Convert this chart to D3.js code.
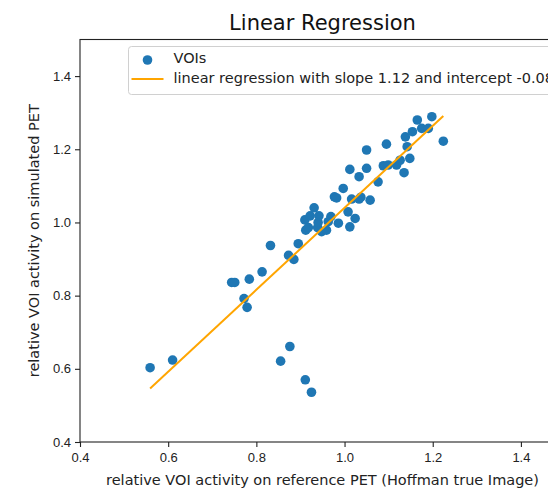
<!DOCTYPE html>
<html>
<head>
<meta charset="utf-8">
<script src="https://cdn.jsdelivr.net/npm/d3@7"></script>
<style>
  body { margin: 0; background: #fff; }
  svg { font-family: "DejaVu Sans", sans-serif; }
  .tick text { font-size: 13px; fill: #222; }
  .axis-label { font-size: 14.5px; fill: #222; }
  .chart-title { font-size: 21px; fill: #111; }
  .legend-label { font-size: 14.5px; fill: #222; }
</style>
</head>
<body>
<div id="chart"></div>
<script>
// VOI activity: reference PET (x) vs simulated PET (y)
const refActivity = [
    0.559, 0.610, 0.744, 0.751, 0.784, 0.813, 0.832, 0.772, 0.779, 0.876, 0.855, 0.911, 0.925,
    0.873, 0.885, 0.895, 0.910, 0.912, 0.918, 0.922, 0.931, 0.939, 0.940, 0.942, 0.948, 0.959,
    0.963, 0.969, 0.977, 0.982, 0.986, 0.997, 1.008, 1.012, 1.016, 1.024, 1.033, 1.037, 1.058,
    1.012, 1.033, 1.050, 1.050, 1.076, 1.088, 1.099, 1.095, 1.118, 1.126, 1.135, 1.138, 1.142,
    1.148, 1.154, 1.165, 1.175, 1.190, 1.198, 1.224
];
const simActivity = [
    0.603, 0.624, 0.836, 0.836, 0.845, 0.865, 0.937, 0.792, 0.768, 0.661, 0.621, 0.570, 0.536,
    0.910, 0.899, 0.942, 1.007, 0.979, 0.986, 1.018, 1.040, 0.986, 1.000, 1.018, 0.975, 0.979,
    1.002, 1.016, 1.070, 1.067, 0.998, 1.093, 1.029, 0.988, 1.064, 1.011, 1.064, 1.069, 1.061,
    1.145, 1.125, 1.198, 1.148, 1.111, 1.155, 1.157, 1.214, 1.157, 1.170, 1.136, 1.234, 1.207,
    1.175, 1.248, 1.280, 1.257, 1.257, 1.289, 1.222
];
const slope = 1.12;
const intercept = -0.08;
const xTicks = [0.4, 0.6, 0.8, 1.0, 1.2, 1.4];
const yTicks = [0.4, 0.6, 0.8, 1.0, 1.2, 1.4];

const width = 548;
const height = 488;
const margin = { top: 39.5, right: -17, bottom: 46, left: 80 };

const svg = d3.select("#chart")
    .append("svg")
    .attr("width", width)
    .attr("height", height);

const x = d3.scaleLinear()
    .domain([0.4, 1.5])
    .range([margin.left, width - margin.right]);

const y = d3.scaleLinear()
    .domain([0.4, 1.5])
    .range([height - margin.bottom, margin.top]);

const fmt = d3.format(".1f");

// axes
const xAxis = svg.append("g")
    .attr("transform", `translate(0, ${height - margin.bottom})`)
    .call(d3.axisBottom(x).tickValues(xTicks).tickFormat(fmt).tickSize(5).tickPadding(6));

const yAxis = svg.append("g")
    .attr("transform", `translate(${margin.left}, 0)`)
    .call(d3.axisLeft(y).tickValues(yTicks).tickFormat(fmt).tickSize(5).tickPadding(4));

[xAxis, yAxis].forEach(a => {
    a.select(".domain").remove();
    a.selectAll(".tick line").attr("stroke", "#222").attr("stroke-width", 1.1);
});

// spines (right one falls outside the picture)
svg.append("rect")
    .attr("x", x(0.4))
    .attr("y", y(1.5))
    .attr("width", x(1.5) - x(0.4))
    .attr("height", y(0.4) - y(1.5))
    .attr("fill", "none")
    .attr("stroke", "#222")
    .attr("stroke-width", 1.1);

// scatter
const points = refActivity.map((v, i) => ({ x: v, y: simActivity[i] }));

svg.append("g")
    .selectAll("circle")
    .data(points)
    .enter()
    .append("circle")
    .attr("cx", d => x(d.x))
    .attr("cy", d => y(d.y))
    .attr("r", 4.8)
    .attr("fill", "#1f77b4");

// regression line over the data range
const xExtent = d3.extent(refActivity);
svg.append("line")
    .attr("x1", x(xExtent[0]))
    .attr("y1", y(slope * xExtent[0] + intercept))
    .attr("x2", x(xExtent[1]))
    .attr("y2", y(slope * xExtent[1] + intercept))
    .attr("stroke", "#ffa500")
    .attr("stroke-width", 2);

// title and axis labels
svg.append("text")
    .attr("class", "chart-title")
    .attr("x", (x(0.4) + x(1.5)) / 2)
    .attr("y", 30)
    .attr("text-anchor", "middle")
    .text("Linear Regression");

svg.append("text")
    .attr("class", "axis-label")
    .attr("x", (x(0.4) + x(1.5)) / 2)
    .attr("y", 485)
    .attr("text-anchor", "middle")
    .text("relative VOI activity on reference PET (Hoffman true Image)");

svg.append("text")
    .attr("class", "axis-label")
    .attr("transform", `translate(39, ${(y(0.4) + y(1.5)) / 2}) rotate(-90)`)
    .attr("text-anchor", "middle")
    .text("relative VOI activity on simulated PET");

// legend
const legend = svg.append("g")
    .attr("transform", "translate(128.5, 46.5)");

legend.append("rect")
    .attr("width", 460)
    .attr("height", 48)
    .attr("rx", 3)
    .attr("fill", "#fff")
    .attr("fill-opacity", 0.8)
    .attr("stroke", "#d0d0d0")
    .attr("stroke-width", 1);

legend.append("circle")
    .attr("cx", 19)
    .attr("cy", 13.5)
    .attr("r", 4.8)
    .attr("fill", "#1f77b4");

legend.append("text")
    .attr("class", "legend-label")
    .attr("x", 45)
    .attr("y", 16.5)
    .text("VOIs");

legend.append("line")
    .attr("x1", 3)
    .attr("x2", 35)
    .attr("y1", 32.5)
    .attr("y2", 32.5)
    .attr("stroke", "#ffa500")
    .attr("stroke-width", 2);

legend.append("text")
    .attr("class", "legend-label")
    .attr("x", 45)
    .attr("y", 36.5)
    .text(`linear regression with slope ${slope.toFixed(2)} and intercept ${intercept.toFixed(2)}`);
</script>
</body>
</html>
